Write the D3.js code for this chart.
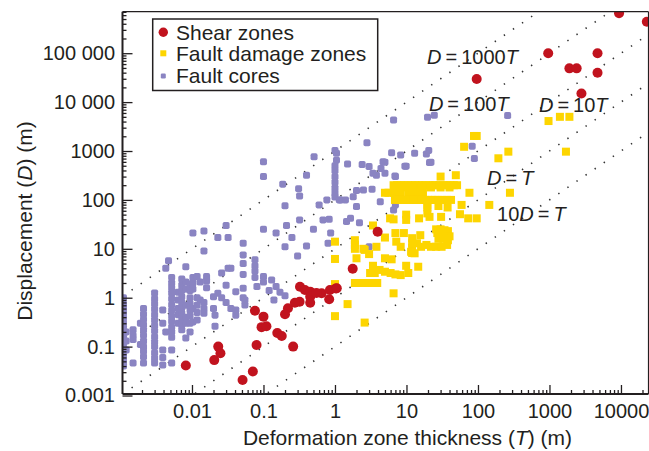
<!DOCTYPE html>
<html>
<head>
<meta charset="utf-8">
<script src="https://cdn.jsdelivr.net/npm/d3@7"></script>
<style>
body{margin:0;background:#fff}
text{font-family:"Liberation Sans",Arial,Helvetica,sans-serif;fill:#231f20}
</style>
</head>
<body>
<svg id="chart"></svg>
<script>
// thickness T (m), displacement D (m)
var shearZones = [
  [9400,655000],[23000,440000],[960,100000],[4700,100000],[1900,49000],[2400,49000],[4700,40000],
  [96,29800],[2800,15000],[3.95,22.4],[1.77,3.9],[1.03,1.55],[0.324,1.68],[0.38,1.44],[0.45,1.33],
  [0.45,1.05],[0.45,0.79],[0.65,1.23],[0.85,1.44],[1.06,1.56],[0.83,0.93],[0.32,0.83],[0.275,0.79],
  [0.22,0.61],[0.2,0.46],[0.076,0.54],[0.1,0.41],[0.094,0.25],[0.11,0.26],[0.156,0.19],[0.18,0.165],
  [0.26,0.1],[0.08,0.108],[0.071,0.031],[0.051,0.0207],[0.0082,0.041],[0.0205,0.053],[0.0233,0.1],
  [0.025,0.073],[0.55,1.25]
];

var damageZones = [
  [970,4100],[1400,5000],[1900,5000],[1700,970],[88,2030],[96,2030],[64,1220],[266,970],[193,710],
  [280,140],[144,79],[76,140],[49,320],[30,300],
  [6.6,200],[7.4,200],[8.3,200],[9.3,200],[10.5,200],[11.8,200],[13.2,200],[14.8,200],[16.5,200],
  [18.5,200],[21,200],[23.5,200],[26,200],[29,200],[33,200],[37,200],[41,200],[46,200],[51,200],
  [7,180],[9,180],[12,180],[16,180],[22,180],[30,180],[40,180],
  [5,140],[5.6,140],[6.6,140],[8.3,140],[10.6,140],[12,140],[14.5,140],[17,140],
  [6.9,100],[7.8,100],[8.8,100],[10,100],[11.2,100],[12.6,100],[14,100],[16,100],[18,100],[20,100],
  [22.5,100],[25,100],[28,100],[32,100],[37,100],[42,100],
  [19.6,79],[28,75],[59,79],[19.6,70],[37.6,70],[19.6,53],[9.9,50],[56,51],[21,45],[30.5,45],[15,42],
  [73,42],[96,42],[5.9,42],[6.6,40],[9.9,39],[3.4,30],
  [26,25],[30,25],[34,24],[38,23],[27,21],[32,20],[36,19],[40,18],[28,16],[33,16],[38,15],
  [7,21],[9.2,21],[15.6,19],[5,17],[1.9,15],[1.0,14],[7.2,14],[2.5,10],[3.0,7.8],[8.3,11],
  [12,16.5],[12,13],[12,10.5],[12,8.2],
  [14,13],[16,11],[19,12],[22,11],[26,11],[31,11],[37,12],[11.6,8.7],[13,8.1],
  [5,6.4],[6.2,6.1],[9.9,4.5],[14.6,4.3],[3.4,4.5],[2,6.4],[1,6.2],
  [4.2,3.7],[5,3.4],[6,3.2],[7,3.0],[8.3,2.9],[3.1,3.2],[3.6,3.2],[10.6,3.2],
  [1.9,2],[2.2,2],[2.5,2],[2.9,2],[3.3,2],[3.9,2],
  [6.6,1.23],[1.0,1.9],[1.0,0.42],[1.5,0.74],[2.6,0.31],[1.9,12],[1.9,10],[2.6,9.5],[3.8,11]
];

var faultCores = [
  [0.0011,1.0],[0.0011,0.75],[0.0011,0.6],[0.0011,0.48],[0.0011,0.38],[0.0011,0.3],[0.0011,0.24],
  [0.0011,0.19],[0.0011,0.15],[0.0011,0.12],[0.0011,0.095],[0.0011,0.075],[0.0011,0.06],[0.0011,0.048],
  [0.0011,0.04],[0.0012,0.2],[0.0012,0.13],[0.0012,0.085],
  [0.0015,0.22],[0.0015,0.17],[0.0015,0.14],[0.0015,0.046],[0.0019,0.3],[0.0019,0.11],
  [0.0021,0.6],[0.0021,0.46],[0.0021,0.36],[0.0021,0.28],[0.0021,0.22],[0.0021,0.17],[0.0021,0.13],
  [0.0021,0.1],[0.0021,0.08],[0.0021,0.062],[0.0021,0.046],
  [0.003,1.25],[0.003,0.95],[0.003,0.75],[0.003,0.58],[0.003,0.45],[0.003,0.35],[0.003,0.27],
  [0.003,0.21],[0.003,0.16],[0.003,0.125],[0.003,0.1],[0.003,0.075],[0.003,0.058],[0.003,0.046],
  [0.0039,0.56],[0.0039,0.3],[0.0039,0.085],[0.0039,0.06],[0.0039,0.042],
  [0.0043,4.0],[0.0047,5.7],[0.0043,0.2],
  [0.0052,2.6],[0.0052,2.0],[0.0052,1.6],[0.0052,1.25],[0.0052,0.95],[0.0052,0.72],[0.0052,0.55],
  [0.0052,0.42],[0.0052,0.33],[0.0052,0.25],[0.0052,0.2],[0.0052,0.155],[0.0052,0.085],[0.0052,0.046],
  [0.0064,1.3],[0.0064,0.9],[0.0064,0.6],[0.0064,0.45],[0.0064,0.3],
  [0.0072,2.4],[0.0072,1.8],[0.0072,1.4],[0.0072,1.05],[0.0072,0.8],[0.0072,0.62],[0.0072,0.48],
  [0.0072,0.37],[0.0072,0.28],[0.0072,0.22],
  [0.0082,4.3],[0.0082,2.1],[0.0082,1.5],[0.0082,0.7],[0.0082,0.4],[0.0082,0.3],[0.0082,0.15],
  [0.0094,1.9],[0.0094,1.4],[0.0094,1.0],[0.0094,0.75],[0.0094,0.55],[0.0094,0.42],[0.0094,0.3],[0.0094,0.2],
  [0.0103,21],[0.0103,2.6],[0.0103,2.0],[0.0103,1.5],[0.0103,0.6],[0.0103,0.32],
  [0.0118,2.7],[0.0118,1.0],[0.0118,0.7],[0.0118,0.5],[0.0118,0.35],[0.013,2.1],[0.013,0.9],
  [0.0147,23],[0.0147,9],[0.0147,0.8],[0.0147,0.6],[0.0147,0.48],[0.016,2.7],[0.016,2.2],[0.016,1.6],
  [0.02,1.05],[0.02,0.6],[0.021,0.44],[0.021,0.26],[0.023,17],[0.023,1.23],[0.026,3.2],[0.026,1.0],
  [0.03,30],[0.03,1.8],[0.03,0.8],[0.032,17],[0.032,4.0],[0.035,4.0],[0.035,0.6],
  [0.041,1.33],[0.041,0.56],[0.041,0.44],
  [0.052,13],[0.052,7.5],[0.052,5.0],[0.052,3.0],[0.052,1.56],[0.052,1.0],[0.055,0.71],[0.055,0.9],
  [0.076,6.0],[0.076,4.5],[0.076,3.5],[0.076,2.6],[0.081,1.7],
  [0.1,600],[0.1,300],[0.1,25],[0.1,2.7],[0.1,2.1],
  [0.12,1.4],[0.13,2.3],[0.14,0.9],[0.15,1.7],[0.17,1.3],[0.2,1.1],
  [0.186,210],[0.31,170],[0.32,120],[0.4,320],[0.51,760],[0.2,76],[0.6,79],[0.77,100],[1.2,100],[1.4,100],
  [0.32,39],[0.21,30],[0.15,21],[0.25,17],[0.2,11],[0.3,7.1],[0.4,11.4],[0.5,25],[0.68,39],[0.83,40],
  [0.87,21],[0.8,13],[1.45,36],
  [1.0,1030],[1.05,900],[1.05,650],[1.0,500],[1.0,400],[1.0,300],[1.0,230],[1.0,175],[1.0,140],[1.0,115],
  [6.6,4300],[19.7,4900],[24.5,5400],[260,5300],[2.8,1480],[1.5,540],[2.4,530],[3,480],[3.4,350],
  [4.7,600],[6.2,920],[8.3,830],[13,900],[19,870],[20.5,1030],[21,580],[9.9,490],[83,1250],[89,700],
  [4.4,440],[3.8,320],[6.9,310],[2.0,155],[2.5,160],[3.3,165],[1.15,100],[1.8,116],[2.0,73],[4.3,92],
  [6.6,62],[7.0,79],[1.65,42],[2.2,34],[3.0,11],[5,590],[22,590],[9.5,490],[7,300],[5,350]
];

// D = ratio * T guide lines
var ratios = [1000, 100, 10, 1, 0.1];
var ratioLabels = [
  [["D",1],["\u2009=\u2009",0],["1000",0],["T",1]],
  [["D",1],["\u2009=\u2009",0],["100",0],["T",1]],
  [["D",1],["\u2009=\u2009",0],["10",0],["T",1]],
  [["D",1],["\u2009=\u2009",0],["T",1]],
  [["10",0],["D",1],["\u2009=\u2009",0],["T",1]]
];
// where each label starts (T, D)
var ratioLabelAt = [[19.4,61500],[20.6,6580],[713,6270],[134,202],[185,37]];

var xTicks = [0.01, 0.1, 1, 10, 100, 1000, 10000];
var xTickLabels = ["0.01","0.1","1","10","100","1000","10000"];
var yTicks = [0.01, 0.1, 1, 10, 100, 1000, 10000, 100000];
var yTickLabels = ["0.001","0.1","1","10","100","1000","10 000","100 000"];

var seriesNames = ["Shear zones","Fault damage zones","Fault cores"];
var colors = {shear:"#c1131e", damage:"#fdd500", core:"#8a84c2"};

var width = 649, height = 451;
var margins = {top:11.7, left:122.5, right:0.5, bottom:57};
var graph = {width: width-margins.left-margins.right, height: height-margins.top-margins.bottom};

var svg = d3.select("#chart").attr("width",width).attr("height",height);

var xScale = d3.scaleLog().domain([0.001067, 24270]).range([0, graph.width]);
var yScale = d3.scaleLog().domain([0.01074, 706000]).range([graph.height, 0]);

var g = svg.append("g")
  .attr("transform","translate("+margins.left+","+margins.top+")");

g.append("clipPath").attr("id","plotclip")
  .append("rect").attr("width",graph.width).attr("height",graph.height);

// guide lines
var guides = g.append("g").attr("clip-path","url(#plotclip)");
ratios.forEach(function(r)
{
  var t0 = xScale.domain()[0], t1 = xScale.domain()[1];
  guides.append("line")
    .attr("x1",xScale(t0)).attr("y1",yScale(r*t0))
    .attr("x2",xScale(t1)).attr("y2",yScale(r*t1))
    .attr("stroke","#333")
    .attr("stroke-width",1.6)
    .attr("stroke-dasharray","1.4 9.6");
});

// ratio labels
ratioLabels.forEach(function(parts,i)
{
  var t = g.append("text")
    .attr("x",xScale(ratioLabelAt[i][0]))
    .attr("y",yScale(ratioLabelAt[i][1]))
    .attr("font-size",20);
  parts.forEach(function(p)
  {
    t.append("tspan").text(p[0]).attr("font-style",p[1]?"italic":"normal");
  });
});

// points
var pts = g.append("g").attr("clip-path","url(#plotclip)");
pts.selectAll("rect.core")
  .data(faultCores).enter()
  .append("rect").classed("core",true)
  .attr("x",function(d){return xScale(d[0])-3.5})
  .attr("y",function(d){return yScale(d[1])-3.5})
  .attr("width",7).attr("height",7).attr("rx",1.8)
  .attr("fill",colors.core);

pts.selectAll("rect.damage")
  .data(damageZones).enter()
  .append("rect").classed("damage",true)
  .attr("x",function(d){return xScale(d[0])-4})
  .attr("y",function(d){return yScale(d[1])-4})
  .attr("width",8).attr("height",8)
  .attr("fill",colors.damage);

pts.selectAll("circle")
  .data(shearZones).enter()
  .append("circle")
  .attr("cx",function(d){return xScale(d[0])})
  .attr("cy",function(d){return yScale(d[1])})
  .attr("r",5)
  .attr("fill",colors.shear);

// axes, ticks pointing inward
var xMinor = xScale.ticks().filter(function(v){return xTicks.indexOf(v)<0});
var yMinor = yScale.ticks().filter(function(v){return yTicks.indexOf(v)<0});

var xAxis = g.append("g").attr("transform","translate(0,"+graph.height+")")
  .call(d3.axisBottom(xScale).tickValues(xTicks).tickSize(-9).tickPadding(10)
    .tickFormat(function(d,i){return xTickLabels[i]}));
var xAxisMinor = g.append("g").attr("transform","translate(0,"+graph.height+")")
  .call(d3.axisBottom(xScale).tickValues(xMinor).tickSize(-4).tickFormat(""));
var yAxis = g.append("g")
  .call(d3.axisLeft(yScale).tickValues(yTicks).tickSize(-10).tickPadding(7.5)
    .tickFormat(function(d,i){return yTickLabels[i]}));
var yAxisMinor = g.append("g")
  .call(d3.axisLeft(yScale).tickValues(yMinor).tickSize(-4).tickFormat(""));

[xAxis,xAxisMinor,yAxis,yAxisMinor].forEach(function(a)
{
  a.select(".domain").remove();
  a.selectAll("line").attr("stroke","#231f20").attr("stroke-width",1.3);
  a.selectAll("text").attr("font-size",20).attr("font-family",null).attr("fill","#231f20");
});

// frame
g.append("line").attr("x1",0).attr("y1",0).attr("x2",graph.width).attr("y2",0)
  .attr("stroke","#231f20").attr("stroke-width",1.2);
g.append("line").attr("x1",graph.width).attr("y1",0).attr("x2",graph.width).attr("y2",graph.height)
  .attr("stroke","#231f20").attr("stroke-width",1.2);
g.append("line").attr("x1",0).attr("y1",0).attr("x2",0).attr("y2",graph.height)
  .attr("stroke","#231f20").attr("stroke-width",2);
g.append("line").attr("x1",0).attr("y1",graph.height).attr("x2",graph.width).attr("y2",graph.height)
  .attr("stroke","#231f20").attr("stroke-width",2);

// axis titles
var xt = svg.append("text")
  .attr("x",margins.left+(407.5-margins.left))
  .attr("y",445)
  .attr("text-anchor","middle")
  .attr("font-size",21);
xt.append("tspan").text("Deformation zone thickness (");
xt.append("tspan").text("T").attr("font-style","italic");
xt.append("tspan").text(") (m)");

var yt = svg.append("text")
  .attr("transform","translate(32,221) rotate(-90)")
  .attr("text-anchor","middle")
  .attr("font-size",21);
yt.append("tspan").text("Displacement (");
yt.append("tspan").text("D").attr("font-style","italic");
yt.append("tspan").text(") (m)");

// legend
var legend = svg.append("g").attr("transform","translate(152.7,19)");
legend.append("rect").attr("width",225).attr("height",71.5)
  .attr("fill","#fff").attr("stroke","#231f20").attr("stroke-width",1.5);
legend.append("circle").attr("cx",10.6).attr("cy",13.3).attr("r",4.7).attr("fill",colors.shear);
legend.append("rect").attr("x",7.6).attr("y",31.3).attr("width",6).attr("height",6).attr("fill",colors.damage);
legend.append("rect").attr("x",8.1).attr("y",54.5).attr("width",5).attr("height",5).attr("rx",1.2).attr("fill",colors.core);
seriesNames.forEach(function(name,i)
{
  legend.append("text").attr("x",23.3).attr("y",20.5+i*21.5)
    .attr("font-size",21).text(name);
});
</script>
</body>
</html>
